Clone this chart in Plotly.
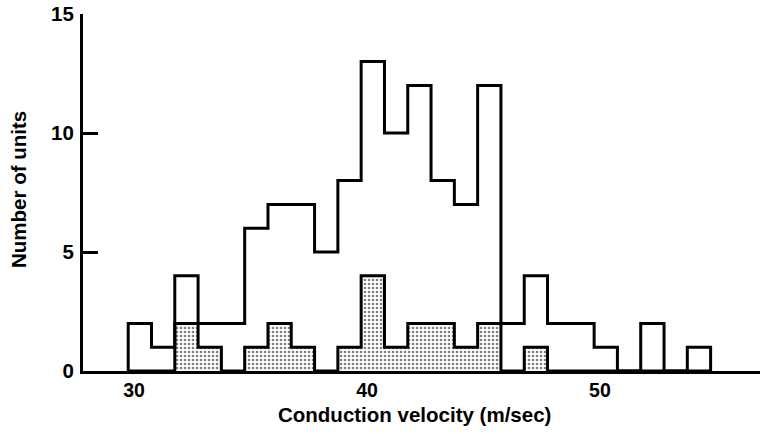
import plotly.graph_objects as go

# Histogram bins: 1 m/sec wide, left edges starting at 29.75
bin_start = 29.75
bin_width = 1.0
all_units = [2, 1, 4, 2, 2, 6, 7, 7, 5, 8, 13, 10, 12, 8, 7, 12, 2, 4, 2, 2, 1, 0, 2, 0, 1]
shaded_units = [0, 0, 2, 1, 0, 1, 2, 1, 0, 1, 4, 1, 2, 2, 1, 2, 0, 1, 0, 0, 0, 0, 0, 0, 0]
x_ticks = [30, 40, 50]
y_ticks = [0, 5, 10, 15]

n = len(all_units)
edges = [bin_start + i * bin_width for i in range(n + 1)]
centers = [bin_start + (i + 0.5) * bin_width for i in range(n)]


def step_outline(counts):
    xs, ys = [edges[0]], [0]
    for i, c in enumerate(counts):
        xs += [edges[i], edges[i + 1]]
        ys += [c, c]
    xs.append(edges[-1])
    ys.append(0)
    return xs, ys


FAM = "Liberation Sans, Arial, sans-serif"
FONT = dict(family=FAM, size=20.5, color="black", weight="bold")
XTICKFONT = dict(family=FAM, size=19.5, color="black", weight="bold")

fig = go.Figure()
fig.add_trace(go.Bar(
    x=centers, y=shaded_units, width=bin_width,
    marker=dict(color="white", line=dict(width=0),
                pattern=dict(shape=".", size=4, solidity=0.33, fgcolor="black", bgcolor="white")),
    showlegend=False, hoverinfo="skip",
))
sx, sy = step_outline(shaded_units)
fig.add_trace(go.Scatter(x=sx, y=sy, mode="lines", line=dict(color="black", width=3),
                         showlegend=False, hoverinfo="skip", cliponaxis=False))
ax, ay = step_outline(all_units)
fig.add_trace(go.Scatter(x=ax, y=ay, mode="lines", line=dict(color="black", width=3),
                         showlegend=False, hoverinfo="skip", cliponaxis=False))

fig.update_layout(
    width=760, height=434,
    margin=dict(l=83, r=0, t=14, b=63, autoexpand=False),
    paper_bgcolor="white", plot_bgcolor="white",
    bargap=0, font=FONT,
    xaxis=dict(range=[27.81, 56.87], tickvals=x_ticks, ticks="", showgrid=False, zeroline=False,
               showline=True, linecolor="black", linewidth=3, tickfont=XTICKFONT, ticklabelstandoff=0),
    yaxis=dict(range=[0, 15], tickvals=y_ticks, ticks="inside", ticklen=15, tickwidth=3,
               tickcolor="black", showgrid=False, zeroline=False,
               showline=True, linecolor="black", linewidth=3, tickfont=FONT, ticklabelstandoff=2),
    annotations=[
        dict(text="Conduction velocity (m/sec)", xref="paper", yref="paper",
             x=(414 - 83) / 677, y=-(414 - 371) / 357, showarrow=False, font=FONT,
             xanchor="center", yanchor="middle"),
        dict(text="Number of units", xref="paper", yref="paper",
             x=-(83 - 18) / 677, y=(371 - 190) / 357, showarrow=False, font=FONT,
             textangle=-90, xanchor="center", yanchor="middle"),
    ],
)

fig.write_html("out.html", config={"displayModeBar": False},
               post_script="document.body.style.margin='0';")
